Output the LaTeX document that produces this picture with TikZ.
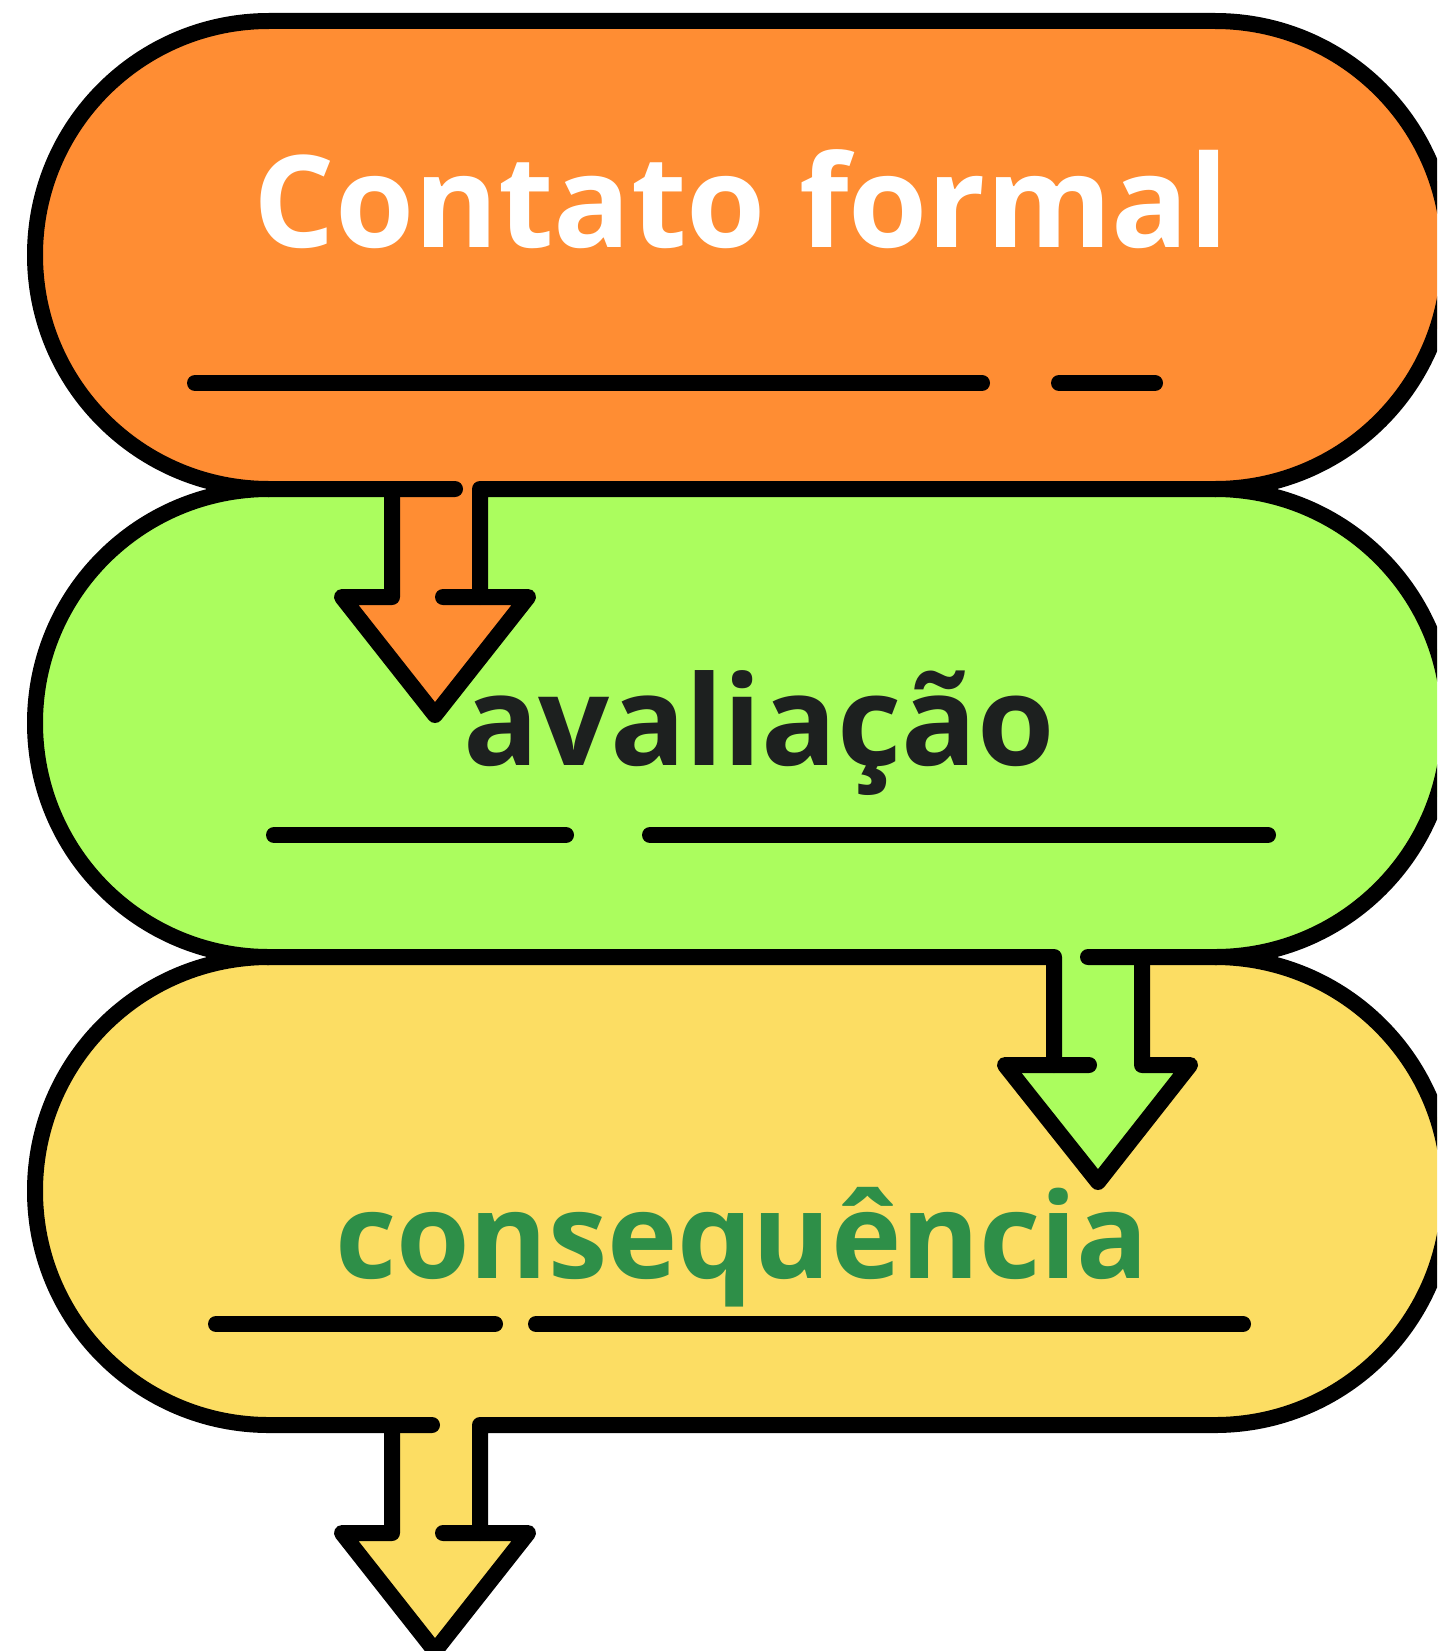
\documentclass[tikz,border=0pt]{standalone}
\usepackage{fontspec}
\setmainfont{Open Sans}
\definecolor{laranja}{HTML}{FF8D33}
\definecolor{verde}{HTML}{ABFD5E}
\definecolor{amarelo}{HTML}{FCDD63}
\definecolor{escuro}{HTML}{1D201F}
\definecolor{verdeesc}{HTML}{2E8F48}

\begin{document}
\begin{tikzpicture}[x = 1pt, y = -1pt, line width = 16pt, line cap = round, line join = round,
        titulo/.style = {font = \fontsize{#1}{#1}\selectfont\bfseries, anchor = base, inner sep = 0pt},
        caixa/.style = {rounded corners = 234pt}]
        \clip (0,0) rectangle (1437,1651);
        % fundos das caixas
        \fill[laranja, caixa] (35,21) rectangle (1449,489);
        \fill[verde, caixa] (35,489) rectangle (1449,957);
        \fill[amarelo, caixa] (35,957) rectangle (1449,1425);
        % fundos das setas
        \fill[laranja] (392,480) -- (392,597) -- (342,597) -- (435,715) -- (528,597) -- (480,597) -- (480,480) -- cycle;
        \fill[verde] (1054,948) -- (1054,1065) -- (1005,1065) -- (1098,1182) -- (1190,1065) -- (1142,1065) -- (1142,948) -- cycle;
        \fill[amarelo] (392,1416) -- (392,1533) -- (342,1533) -- (435,1651) -- (528,1533) -- (480,1533) -- (480,1416) -- cycle;
        % contornos
        \draw (480,597) -- (480,489) -- (1215,489) arc[start angle = -90, end angle = 90, radius = 234pt]
            -- (269,21) arc[start angle = 90, end angle = 270, radius = 234pt] -- (455,489);
        \draw (392,489) -- (392,597) -- (342,597) -- (435,715) -- (528,597) -- (443,597);
        \draw (1054,1065) -- (1054,957) -- (269,957) arc[start angle = 270, end angle = 90, radius = 234pt];
        \draw (1215,489) arc[start angle = 90, end angle = -90, radius = 234pt] -- (1088,957);
        \draw (1142,957) -- (1142,1065) -- (1190,1065) -- (1098,1182) -- (1005,1065) -- (1089,1065);
        \draw (480,1533) -- (480,1425) -- (1215,1425) arc[start angle = -90, end angle = 90, radius = 234pt];
        \draw (269,957) arc[start angle = 90, end angle = 270, radius = 234pt] -- (432,1425);
        \draw (392,1425) -- (392,1533) -- (342,1533) -- (435,1651) -- (528,1533) -- (443,1533);
        % linhas
        \draw (195,383) -- (982,383);
        \draw (1059,383) -- (1155,383);
        \draw (274,835) -- (566,835);
        \draw (650,835) -- (1268,835);
        \draw (216,1324) -- (495,1324);
        \draw (536,1324) -- (1243,1324);
        % textos
        \node[titulo = 128, white] (contato) at (741,247) {Contato formal};
        \node[titulo = 125, escuro] (avaliacao) at (759,765) {avaliação};
        \node[titulo = 119, verdeesc] (consequencia) at (742,1278) {consequência};
    \end{tikzpicture}
\end{document}
